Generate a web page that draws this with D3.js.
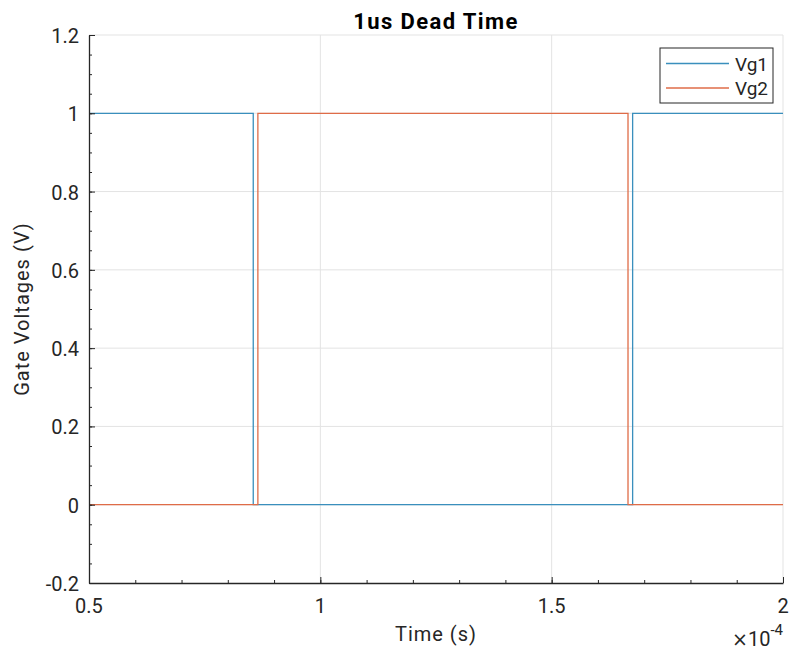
<!DOCTYPE html>
<html>
<head>
<meta charset="utf-8">
<script src="https://cdn.jsdelivr.net/npm/d3@7"></script>
<style>
  body { margin: 0; background: #fff; }
  svg { font-family: Roboto, "DejaVu Sans", sans-serif; }
  .tick-label { font-size: 20px; fill: #262626; }
  .axis-label { font-size: 20px; fill: #262626; letter-spacing: 1px; }
</style>
</head>
<body>
<div id="chart"></div>
<script>
// times in seconds, step values (held until next time)
let vg1Time = [0.5e-4, 0.855e-4, 1.675e-4, 2e-4];
let vg1Value = [1, 0, 1, 1];
let vg2Time = [0.5e-4, 0.865e-4, 1.665e-4, 2e-4];
let vg2Value = [0, 1, 0, 0];
let xTicks = [0.5e-4, 1e-4, 1.5e-4, 2e-4];
let xTickLabels = ["0.5", "1", "1.5", "2"];
let yTicks = [-0.2, 0, 0.2, 0.4, 0.6, 0.8, 1, 1.2];
let yTickLabels = ["-0.2", "0", "0.2", "0.4", "0.6", "0.8", "1", "1.2"];
let seriesNames = ["Vg1", "Vg2"];
let seriesColors = ["#3a8fbd", "#df6c48"];

let w = 790, h = 651;
let plotLeft = 89, plotRight = 783, plotTop = 35, plotBottom = 583;

let svg = d3.select("#chart").append("svg")
    .attr("width", w)
    .attr("height", h);

let xScale = d3.scaleLinear().domain([0.5e-4, 2e-4]).range([plotLeft, plotRight]);
let yScale = d3.scaleLinear().domain([-0.2, 1.2]).range([plotBottom, plotTop]);

// grid
svg.append("g").selectAll("line")
    .data(xTicks.slice(1))
    .enter().append("line")
    .attr("x1", (d) => xScale(d)).attr("x2", (d) => xScale(d))
    .attr("y1", plotTop).attr("y2", plotBottom)
    .attr("stroke", "#e3e3e3");
svg.append("g").selectAll("line")
    .data(yTicks.slice(1))
    .enter().append("line")
    .attr("x1", plotLeft).attr("x2", plotRight)
    .attr("y1", (d) => yScale(d)).attr("y2", (d) => yScale(d))
    .attr("stroke", "#e3e3e3");

// series
let line = d3.line()
    .x((d) => xScale(d[0]))
    .y((d) => yScale(d[1]))
    .curve(d3.curveStepAfter);
let series = [d3.zip(vg1Time, vg1Value), d3.zip(vg2Time, vg2Value)];
svg.append("g").selectAll("path")
    .data(series)
    .enter().append("path")
    .attr("d", line)
    .attr("fill", "none")
    .attr("stroke", (d, i) => seriesColors[i])
    .attr("stroke-width", 1.3);

// axes, ticks inward
let xMinor = d3.range(5, 21).map((v) => v * 1e-5);
let yMinor = d3.range(-4, 25).map((v) => v * 0.05);
svg.append("g")
    .attr("transform", "translate(0," + plotBottom + ")")
    .call(d3.axisTop(xScale).tickValues(xMinor).tickSize(3).tickFormat(""))
    .call((g) => g.select(".domain").remove())
    .selectAll("line").attr("stroke", "#262626");
svg.append("g")
    .attr("transform", "translate(" + plotLeft + ",0)")
    .call(d3.axisRight(yScale).tickValues(yMinor).tickSize(3).tickFormat(""))
    .call((g) => g.select(".domain").remove())
    .selectAll("line").attr("stroke", "#262626");

let xAxis = svg.append("g")
    .attr("transform", "translate(0," + plotBottom + ")")
    .call(d3.axisTop(xScale).tickValues(xTicks).tickSize(6).tickSizeOuter(0).tickFormat(""));
xAxis.select(".domain").attr("stroke", "#262626").attr("stroke-width", 1.3);
xAxis.selectAll(".tick line").attr("stroke", "#262626");
svg.append("g").selectAll("text")
    .data(xTicks)
    .enter().append("text")
    .attr("class", "tick-label")
    .attr("x", (d) => xScale(d))
    .attr("y", plotBottom + 30)
    .attr("text-anchor", "middle")
    .text((d, i) => xTickLabels[i]);

let yAxis = svg.append("g")
    .attr("transform", "translate(" + plotLeft + ",0)")
    .call(d3.axisRight(yScale).tickValues(yTicks).tickSize(6).tickSizeOuter(0).tickFormat(""));
yAxis.select(".domain").attr("stroke", "#262626").attr("stroke-width", 1.3);
yAxis.selectAll(".tick line").attr("stroke", "#262626");
svg.append("g").selectAll("text")
    .data(yTicks)
    .enter().append("text")
    .attr("class", "tick-label")
    .attr("x", plotLeft - 10)
    .attr("y", (d) => yScale(d) + 8)
    .attr("text-anchor", "end")
    .text((d, i) => yTickLabels[i]);

// exponent
let expo = svg.append("text")
    .attr("class", "tick-label")
    .attr("x", plotRight)
    .attr("y", 646)
    .attr("text-anchor", "end");
expo.append("tspan").attr("font-family", "DejaVu Sans").attr("font-size", 19).text("\u00d7");
expo.append("tspan").text("10");
expo.append("tspan").attr("dy", -11).attr("font-size", 15).text("-4");

// labels
svg.append("text")
    .attr("class", "axis-label")
    .attr("x", (plotLeft + plotRight) / 2)
    .attr("y", 641)
    .attr("text-anchor", "middle")
    .text("Time (s)");
svg.append("text")
    .attr("class", "axis-label")
    .attr("transform", "translate(29," + ((plotTop + plotBottom) / 2) + ") rotate(-90)")
    .attr("text-anchor", "middle")
    .text("Gate Voltages (V)");
svg.append("text")
    .attr("x", (plotLeft + plotRight) / 2)
    .attr("y", 29)
    .attr("text-anchor", "middle")
    .attr("font-size", 22)
    .attr("font-weight", "bold")
    .attr("letter-spacing", 1.4)
    .attr("fill", "#000")
    .text("1us Dead Time");

// legend
let legend = svg.append("g").attr("transform", "translate(660,48)");
legend.append("rect")
    .attr("width", 113).attr("height", 55)
    .attr("fill", "#fff").attr("stroke", "#262626");
let items = legend.selectAll(".item")
    .data(seriesNames)
    .enter().append("g")
    .attr("transform", (d, i) => "translate(0," + (15.5 + i * 24.5) + ")");
items.append("line")
    .attr("x1", 6).attr("x2", 69)
    .attr("stroke", (d, i) => seriesColors[i])
    .attr("stroke-width", 1.3);
items.append("text")
    .attr("font-size", 19)
    .attr("fill", "#262626")
    .attr("x", 75).attr("y", 7)
    .text((d) => d);
</script>
</body>
</html>
